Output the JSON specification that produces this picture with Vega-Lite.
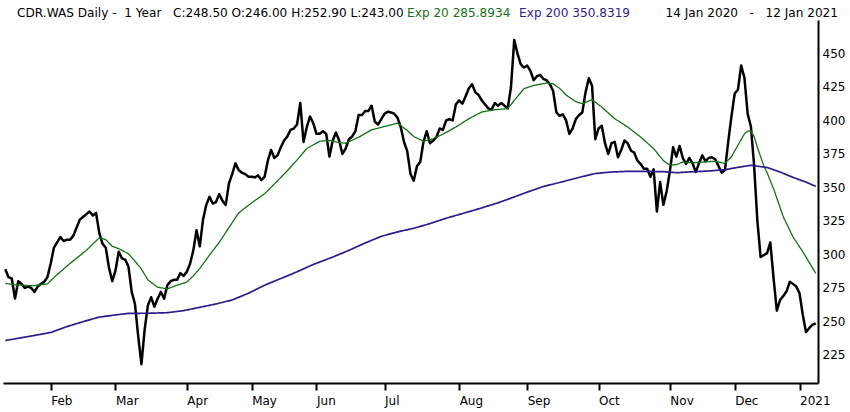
{
  "$schema": "https://vega.github.io/schema/vega-lite/v6.json",
  "width": 815,
  "height": 363,
  "autosize": {"type": "none"},
  "padding": {"left": 3, "top": 20, "right": 32, "bottom": 29},
  "background": "#ffffff",
  "title": {
    "text": "14 Jan 2020\u00a0\u00a0 -\u00a0\u00a0 12 Jan 2021",
    "anchor": "end",
    "frame": "group",
    "dx": 20,
    "offset": -12,
    "fontSize": 12.1,
    "fontWeight": "normal",
    "color": "#000000"
  },
  "data": {
    "values": [
      {"date": "2020-01-14", "close": 289, "ema20": 278.4, "ema200": 235.7},
      {"date": "2020-01-15", "close": 283},
      {"date": "2020-01-16", "close": 282},
      {"date": "2020-01-17", "close": 267, "ema20": 277.3},
      {"date": "2020-01-20", "close": 280},
      {"date": "2020-01-21", "close": 278},
      {"date": "2020-01-22", "close": 275, "ema20": 276.8},
      {"date": "2020-01-23", "close": 276},
      {"date": "2020-01-24", "close": 275},
      {"date": "2020-01-27", "close": 272, "ema20": 276.7, "ema200": 239.5},
      {"date": "2020-01-28", "close": 276},
      {"date": "2020-01-29", "close": 278},
      {"date": "2020-01-30", "close": 279.5},
      {"date": "2020-01-31", "close": 283, "ema20": 278},
      {"date": "2020-02-03", "close": 293, "ema200": 241.7},
      {"date": "2020-02-04", "close": 305},
      {"date": "2020-02-05", "close": 309, "ema20": 285},
      {"date": "2020-02-06", "close": 313},
      {"date": "2020-02-07", "close": 310},
      {"date": "2020-02-10", "close": 311, "ema200": 246.1},
      {"date": "2020-02-11", "close": 311, "ema20": 293.3},
      {"date": "2020-02-12", "close": 314},
      {"date": "2020-02-13", "close": 320},
      {"date": "2020-02-14", "close": 326},
      {"date": "2020-02-17", "close": 328, "ema200": 249.8},
      {"date": "2020-02-18", "close": 330, "ema20": 303},
      {"date": "2020-02-19", "close": 332},
      {"date": "2020-02-20", "close": 329},
      {"date": "2020-02-21", "close": 331},
      {"date": "2020-02-24", "close": 316, "ema20": 312.4, "ema200": 253.2},
      {"date": "2020-02-25", "close": 308},
      {"date": "2020-02-26", "close": 305, "ema20": 311},
      {"date": "2020-02-27", "close": 290},
      {"date": "2020-02-28", "close": 280, "ema20": 306},
      {"date": "2020-03-02", "close": 288, "ema200": 254.8},
      {"date": "2020-03-03", "close": 302, "ema20": 304.3},
      {"date": "2020-03-04", "close": 297},
      {"date": "2020-03-05", "close": 296},
      {"date": "2020-03-06", "close": 291, "ema20": 300.5, "ema200": 256},
      {"date": "2020-03-09", "close": 272},
      {"date": "2020-03-10", "close": 263, "ema20": 295},
      {"date": "2020-03-11", "close": 239},
      {"date": "2020-03-12", "close": 218, "ema20": 289},
      {"date": "2020-03-13", "close": 244},
      {"date": "2020-03-16", "close": 262, "ema20": 281},
      {"date": "2020-03-17", "close": 268, "ema200": 256.1},
      {"date": "2020-03-18", "close": 261},
      {"date": "2020-03-19", "close": 267, "ema20": 275.5},
      {"date": "2020-03-20", "close": 272},
      {"date": "2020-03-23", "close": 267},
      {"date": "2020-03-24", "close": 277, "ema20": 274.3, "ema200": 256.5},
      {"date": "2020-03-25", "close": 280},
      {"date": "2020-03-26", "close": 281},
      {"date": "2020-03-27", "close": 281, "ema20": 277},
      {"date": "2020-03-30", "close": 286},
      {"date": "2020-03-31", "close": 284, "ema200": 258},
      {"date": "2020-04-01", "close": 287, "ema20": 279.3},
      {"date": "2020-04-02", "close": 293},
      {"date": "2020-04-03", "close": 303, "ema20": 284},
      {"date": "2020-04-06", "close": 318},
      {"date": "2020-04-07", "close": 306, "ema20": 289.5, "ema200": 260.5},
      {"date": "2020-04-08", "close": 326},
      {"date": "2020-04-09", "close": 337},
      {"date": "2020-04-14", "close": 343, "ema20": 299.5},
      {"date": "2020-04-15", "close": 338},
      {"date": "2020-04-16", "close": 339, "ema200": 263},
      {"date": "2020-04-17", "close": 345, "ema20": 309},
      {"date": "2020-04-20", "close": 340},
      {"date": "2020-04-21", "close": 337},
      {"date": "2020-04-22", "close": 353, "ema20": 320},
      {"date": "2020-04-23", "close": 360, "ema200": 266},
      {"date": "2020-04-24", "close": 368},
      {"date": "2020-04-27", "close": 363, "ema20": 331},
      {"date": "2020-04-28", "close": 361},
      {"date": "2020-04-29", "close": 360},
      {"date": "2020-04-30", "close": 358, "ema200": 271},
      {"date": "2020-05-04", "close": 358, "ema20": 338.5},
      {"date": "2020-05-05", "close": 357.5},
      {"date": "2020-05-06", "close": 359},
      {"date": "2020-05-07", "close": 355.5},
      {"date": "2020-05-08", "close": 358, "ema20": 345.3, "ema200": 277},
      {"date": "2020-05-11", "close": 370},
      {"date": "2020-05-12", "close": 378},
      {"date": "2020-05-13", "close": 372},
      {"date": "2020-05-14", "close": 374, "ema20": 355},
      {"date": "2020-05-15", "close": 380, "ema200": 282},
      {"date": "2020-05-18", "close": 385},
      {"date": "2020-05-19", "close": 388, "ema20": 362.5},
      {"date": "2020-05-20", "close": 393},
      {"date": "2020-05-21", "close": 394},
      {"date": "2020-05-22", "close": 397, "ema20": 370.5, "ema200": 287},
      {"date": "2020-05-25", "close": 413},
      {"date": "2020-05-26", "close": 384},
      {"date": "2020-05-27", "close": 395, "ema20": 379},
      {"date": "2020-05-28", "close": 403},
      {"date": "2020-05-29", "close": 398, "ema200": 292.5},
      {"date": "2020-06-01", "close": 390},
      {"date": "2020-06-02", "close": 390, "ema20": 384.5},
      {"date": "2020-06-03", "close": 392},
      {"date": "2020-06-04", "close": 390},
      {"date": "2020-06-05", "close": 373, "ema20": 385},
      {"date": "2020-06-08", "close": 385, "ema200": 298},
      {"date": "2020-06-09", "close": 391},
      {"date": "2020-06-10", "close": 385, "ema20": 383.5},
      {"date": "2020-06-12", "close": 375},
      {"date": "2020-06-15", "close": 379, "ema20": 383},
      {"date": "2020-06-16", "close": 386, "ema200": 303},
      {"date": "2020-06-17", "close": 388},
      {"date": "2020-06-18", "close": 392},
      {"date": "2020-06-19", "close": 404, "ema20": 387.5},
      {"date": "2020-06-22", "close": 404},
      {"date": "2020-06-23", "close": 407, "ema200": 308.5},
      {"date": "2020-06-24", "close": 407},
      {"date": "2020-06-25", "close": 411, "ema20": 393},
      {"date": "2020-06-26", "close": 399},
      {"date": "2020-06-29", "close": 397},
      {"date": "2020-06-30", "close": 401, "ema200": 313.5},
      {"date": "2020-07-01", "close": 405, "ema20": 395.5},
      {"date": "2020-07-02", "close": 406.5},
      {"date": "2020-07-03", "close": 406},
      {"date": "2020-07-06", "close": 405},
      {"date": "2020-07-07", "close": 402, "ema20": 398, "ema200": 316.8},
      {"date": "2020-07-08", "close": 395},
      {"date": "2020-07-09", "close": 384},
      {"date": "2020-07-10", "close": 377, "ema20": 392.5},
      {"date": "2020-07-13", "close": 360},
      {"date": "2020-07-14", "close": 355, "ema20": 388, "ema200": 319.5},
      {"date": "2020-07-15", "close": 366},
      {"date": "2020-07-16", "close": 369},
      {"date": "2020-07-17", "close": 384, "ema20": 384.5},
      {"date": "2020-07-20", "close": 392},
      {"date": "2020-07-21", "close": 383, "ema200": 323},
      {"date": "2020-07-22", "close": 385, "ema20": 386.5},
      {"date": "2020-07-23", "close": 387.5},
      {"date": "2020-07-24", "close": 394},
      {"date": "2020-07-27", "close": 393, "ema20": 389.7},
      {"date": "2020-07-28", "close": 400, "ema200": 327},
      {"date": "2020-07-29", "close": 401},
      {"date": "2020-07-30", "close": 400},
      {"date": "2020-07-31", "close": 412, "ema20": 395.1},
      {"date": "2020-08-03", "close": 415},
      {"date": "2020-08-04", "close": 412.5, "ema200": 330.5},
      {"date": "2020-08-05", "close": 418},
      {"date": "2020-08-06", "close": 424, "ema20": 401.3},
      {"date": "2020-08-07", "close": 427},
      {"date": "2020-08-10", "close": 421},
      {"date": "2020-08-11", "close": 419, "ema200": 334},
      {"date": "2020-08-12", "close": 415, "ema20": 406.3},
      {"date": "2020-08-13", "close": 412},
      {"date": "2020-08-14", "close": 409},
      {"date": "2020-08-17", "close": 408},
      {"date": "2020-08-18", "close": 413, "ema20": 408},
      {"date": "2020-08-19", "close": 411, "ema200": 338.5},
      {"date": "2020-08-20", "close": 413},
      {"date": "2020-08-21", "close": 411},
      {"date": "2020-08-24", "close": 409, "ema20": 408.8},
      {"date": "2020-08-25", "close": 425, "ema200": 342},
      {"date": "2020-08-26", "close": 460, "ema20": 415},
      {"date": "2020-08-27", "close": 450},
      {"date": "2020-08-28", "close": 442},
      {"date": "2020-08-31", "close": 439.5, "ema20": 423.7},
      {"date": "2020-09-01", "close": 441, "ema200": 346.5},
      {"date": "2020-09-02", "close": 437},
      {"date": "2020-09-03", "close": 430, "ema20": 426.2},
      {"date": "2020-09-04", "close": 433},
      {"date": "2020-09-07", "close": 434},
      {"date": "2020-09-08", "close": 431, "ema200": 350.7},
      {"date": "2020-09-09", "close": 430, "ema20": 427.9},
      {"date": "2020-09-10", "close": 427},
      {"date": "2020-09-11", "close": 422, "ema20": 427.4},
      {"date": "2020-09-14", "close": 406},
      {"date": "2020-09-15", "close": 403.5, "ema20": 424},
      {"date": "2020-09-16", "close": 404.5, "ema200": 354.3},
      {"date": "2020-09-17", "close": 400, "ema20": 419},
      {"date": "2020-09-18", "close": 390},
      {"date": "2020-09-21", "close": 394},
      {"date": "2020-09-22", "close": 401, "ema20": 414},
      {"date": "2020-09-23", "close": 404, "ema200": 357.5},
      {"date": "2020-09-24", "close": 406, "ema20": 412.5},
      {"date": "2020-09-25", "close": 421},
      {"date": "2020-09-28", "close": 431.5},
      {"date": "2020-09-29", "close": 426, "ema20": 415.5},
      {"date": "2020-09-30", "close": 386, "ema200": 360.4},
      {"date": "2020-10-01", "close": 394},
      {"date": "2020-10-02", "close": 396, "ema20": 410},
      {"date": "2020-10-05", "close": 383},
      {"date": "2020-10-06", "close": 375},
      {"date": "2020-10-07", "close": 383, "ema200": 361.5},
      {"date": "2020-10-08", "close": 384, "ema20": 401.3},
      {"date": "2020-10-09", "close": 372.5},
      {"date": "2020-10-12", "close": 378},
      {"date": "2020-10-13", "close": 385},
      {"date": "2020-10-14", "close": 383, "ema20": 395.1, "ema200": 362},
      {"date": "2020-10-15", "close": 377.5},
      {"date": "2020-10-16", "close": 376},
      {"date": "2020-10-19", "close": 370},
      {"date": "2020-10-20", "close": 367.5, "ema20": 387.6},
      {"date": "2020-10-21", "close": 364, "ema200": 362},
      {"date": "2020-10-22", "close": 364},
      {"date": "2020-10-23", "close": 358},
      {"date": "2020-10-26", "close": 363.5, "ema20": 379},
      {"date": "2020-10-27", "close": 332},
      {"date": "2020-10-28", "close": 354},
      {"date": "2020-10-29", "close": 337, "ema20": 370, "ema200": 361.8},
      {"date": "2020-10-30", "close": 347},
      {"date": "2020-11-02", "close": 362, "ema20": 366.6},
      {"date": "2020-11-03", "close": 380},
      {"date": "2020-11-04", "close": 373, "ema20": 367, "ema200": 361},
      {"date": "2020-11-05", "close": 381},
      {"date": "2020-11-06", "close": 372, "ema20": 369},
      {"date": "2020-11-09", "close": 367.5},
      {"date": "2020-11-10", "close": 372},
      {"date": "2020-11-12", "close": 368, "ema20": 368.3, "ema200": 361.7},
      {"date": "2020-11-13", "close": 361.5},
      {"date": "2020-11-16", "close": 368},
      {"date": "2020-11-17", "close": 374},
      {"date": "2020-11-18", "close": 369.5, "ema20": 369.1},
      {"date": "2020-11-19", "close": 372, "ema200": 362.3},
      {"date": "2020-11-20", "close": 372.5},
      {"date": "2020-11-23", "close": 371, "ema20": 369.6},
      {"date": "2020-11-24", "close": 366},
      {"date": "2020-11-25", "close": 361},
      {"date": "2020-11-26", "close": 363, "ema20": 367.9, "ema200": 363.2},
      {"date": "2020-11-27", "close": 384},
      {"date": "2020-11-30", "close": 403, "ema20": 373},
      {"date": "2020-12-01", "close": 420},
      {"date": "2020-12-02", "close": 423, "ema20": 381.5, "ema200": 365},
      {"date": "2020-12-03", "close": 441},
      {"date": "2020-12-04", "close": 432, "ema20": 390},
      {"date": "2020-12-07", "close": 405, "ema20": 392},
      {"date": "2020-12-08", "close": 395.5, "ema20": 392.3, "ema200": 366.5},
      {"date": "2020-12-09", "close": 366, "ema20": 388},
      {"date": "2020-12-10", "close": 325, "ema20": 380},
      {"date": "2020-12-11", "close": 298, "ema20": 373},
      {"date": "2020-12-14", "close": 299.5, "ema20": 366},
      {"date": "2020-12-15", "close": 301, "ema20": 361, "ema200": 364.9},
      {"date": "2020-12-16", "close": 309},
      {"date": "2020-12-17", "close": 282, "ema20": 349},
      {"date": "2020-12-18", "close": 258},
      {"date": "2020-12-21", "close": 266, "ema200": 361.5},
      {"date": "2020-12-22", "close": 269, "ema20": 328},
      {"date": "2020-12-23", "close": 272.5},
      {"date": "2020-12-28", "close": 279.5},
      {"date": "2020-12-29", "close": 278, "ema20": 313, "ema200": 357.5},
      {"date": "2020-12-30", "close": 276},
      {"date": "2021-01-04", "close": 271},
      {"date": "2021-01-05", "close": 255, "ema20": 302},
      {"date": "2021-01-07", "close": 242, "ema200": 354},
      {"date": "2021-01-08", "close": 245, "ema20": 294},
      {"date": "2021-01-11", "close": 247.5},
      {"date": "2021-01-12", "close": 248.5, "ema20": 285.9, "ema200": 350.8}
    ]
  },
  "transform": [
    {"fold": ["close", "ema20", "ema200"], "as": ["series", "value"]},
    {"filter": "isValid(datum.value)"}
  ],
  "mark": {"type": "line", "strokeJoin": "round"},
  "encoding": {
    "x": {
      "field": "date",
      "type": "ordinal",
      "scale": {"type": "point", "padding": 0.7},
      "axis": {
        "title": null,
        "grid": false,
        "values": ["2020-02-03", "2020-03-02", "2020-04-01", "2020-05-04", "2020-06-01", "2020-07-01", "2020-08-03", "2020-09-01", "2020-10-01", "2020-11-02", "2020-12-01", "2021-01-04"],
        "labelExpr": "slice(datum.value, 0, 4) == '2021' ? '2021' : ['Jan','Feb','Mar','Apr','May','Jun','Jul','Aug','Sep','Oct','Nov','Dec'][toNumber(slice(datum.value, 5, 7)) - 1]",
        "labelAngle": 0,
        "labelAlign": "left",
        "labelBaseline": "top",
        "labelDx": 1,
        "labelPadding": 5,
        "labelFontSize": 12,
        "labelColor": "#000000",
        "labelOverlap": false,
        "labelBound": false,
        "labelFlush": false,
        "tickColor": "#000000",
        "tickWidth": 2,
        "tickSize": 7,
        "domainColor": "#000000",
        "domainWidth": 2
      }
    },
    "y": {
      "field": "value",
      "type": "quantitative",
      "scale": {"domain": [204, 475], "zero": false, "nice": false},
      "axis": {
        "orient": "right",
        "title": null,
        "grid": false,
        "ticks": false,
        "values": [225, 250, 275, 300, 325, 350, 375, 400, 425, 450],
        "labelPadding": 4,
        "labelFontSize": 12,
        "labelColor": "#000000",
        "domainColor": "#000000",
        "domainWidth": 2
      }
    },
    "color": {
      "field": "series",
      "type": "nominal",
      "scale": {"domain": ["close", "ema20", "ema200"], "range": ["#000000", "#137313", "#2d1a8c"]},
      "legend": {
        "orient": "none",
        "legendX": 392,
        "legendY": -13,
        "values": ["ema20"],
        "title": null,
        "padding": 0,
        "symbolSize": 0,
        "symbolStrokeWidth": 0,
        "symbolOpacity": 0,
        "labelOffset": 0,
        "labelFontSize": 12.1,
        "labelLimit": 600,
        "labelColor": "#137313",
        "labelExpr": "'Exp 20 285.8934'"
      }
    },
    "strokeWidth": {
      "field": "series",
      "type": "nominal",
      "scale": {"type": "ordinal", "domain": ["ema200", "ema20", "close"], "range": [1.7, 1.3, 2.5]},
      "legend": {
        "orient": "none",
        "legendX": 2,
        "legendY": -13,
        "values": ["close"],
        "title": null,
        "padding": 0,
        "symbolSize": 0,
        "symbolStrokeWidth": 0,
        "symbolOpacity": 0,
        "labelOffset": 0,
        "labelFontSize": 12.1,
        "labelLimit": 600,
        "labelColor": "#000000",
        "labelExpr": "'CDR.WAS Daily -\u00a0 1 Year\u00a0 \u00a0C:248.50 O:246.00 H:252.90 L:243.00'"
      }
    },
    "strokeDash": {
      "field": "series",
      "type": "nominal",
      "scale": {"type": "ordinal", "domain": ["ema20", "ema200", "close"], "range": [[1, 0], [1, 0], [1, 0]]},
      "legend": {
        "orient": "none",
        "legendX": 504,
        "legendY": -13,
        "values": ["ema200"],
        "title": null,
        "padding": 0,
        "symbolSize": 0,
        "symbolStrokeWidth": 0,
        "symbolOpacity": 0,
        "labelOffset": 0,
        "labelFontSize": 12.1,
        "labelLimit": 600,
        "labelColor": "#2d1a8c",
        "labelExpr": "'Exp 200 350.8319'"
      }
    }
  },
  "config": {
    "font": "DejaVu Sans",
    "view": {"stroke": null}
  }
}
